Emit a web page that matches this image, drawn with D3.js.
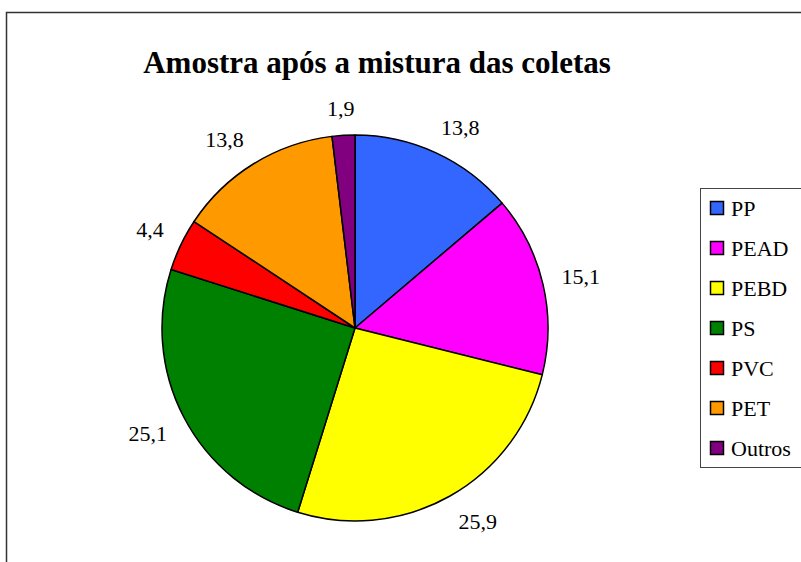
<!DOCTYPE html>
<html>
<head>
<script src="https://cdn.jsdelivr.net/npm/d3@7"></script>
</head>
<body style="margin:0">
<svg></svg>
<script>
const width = 801
const height = 562
const fontName = "Liberation Serif"

// data
const categories = ["PP", "PEAD", "PEBD", "PS", "PVC", "PET", "Outros"]
const values = [13.8, 15.1, 25.9, 25.1, 4.4, 13.8, 1.9]
const colors = ["#3366FF", "#FF00FF", "#FFFF00", "#008000", "#FF0000", "#FF9900", "#800080"]
const title = "Amostra após a mistura das coletas"

const data = categories.map((c, i) => ({ name: c, value: values[i], color: colors[i] }))

const svg = d3.select("svg")
  .attr("width", width)
  .attr("height", height)
  .attr("font-family", fontName)

// outer chart frame (runs off the right and bottom edge)
svg.append("rect")
  .attr("x", 6.5).attr("y", 12.5)
  .attr("width", 900).attr("height", 700)
  .attr("fill", "none")
  .attr("stroke", "#333")
  .attr("stroke-width", 1.5)

svg.append("text")
  .attr("x", 377).attr("y", 73)
  .attr("text-anchor", "middle")
  .attr("font-family", fontName)
  .attr("font-size", 31)
  .attr("font-weight", "bold")
  .text(title)

const cx = 355, cy = 328, radius = 193

const pie = d3.pie().sort(null).value(d => d.value)
const arc = d3.arc().innerRadius(0).outerRadius(radius)
const arcs = pie(data)

svg.append("g")
  .attr("transform", `translate(${cx},${cy})`)
  .selectAll("path")
  .data(arcs)
  .enter().append("path")
    .attr("d", arc)
    .attr("fill", d => d.data.color)
    .attr("stroke", "#000")
    .attr("stroke-width", 1.5)
    .attr("stroke-linejoin", "round")

// value labels: anchor point just outside the rim, box hangs off it
// towards the outside (roughly like Excel's "outside end")
const fmt = v => String(v).replace(".", ",")
const labelR = radius + 19, halfH = 8
const push = v => Math.sign(v) * Math.min(1, Math.abs(v) * 2)

const labels = svg.selectAll(".lbl")
  .data(arcs)
  .enter().append("text")
    .attr("class", "lbl")
    .attr("font-family", fontName)
    .attr("font-size", 22)
    .attr("text-anchor", "middle")
    .attr("dy", "0.35em")
    .text(d => fmt(d.data.value))

labels.each(function(d) {
  const a = (d.startAngle + d.endAngle) / 2
  const s = Math.sin(a), c = Math.cos(a)
  const w = this.getComputedTextLength()
  d3.select(this)
    .attr("x", cx + labelR * s + push(s) * w / 2)
    .attr("y", cy - labelR * c - push(c) * halfH)
})

// legend
const lx = 700, ly0 = 188
svg.append("rect")
  .attr("x", lx + 0.5).attr("y", ly0 + 0.5)
  .attr("width", 200).attr("height", 279)
  .attr("fill", "#fff")
  .attr("stroke", "#444")
  .attr("stroke-width", 1)

const ly = d3.scalePoint().domain(categories).range([ly0 + 20, ly0 + 260])

svg.selectAll(".sw")
  .data(data)
  .enter().append("rect")
    .attr("class", "sw")
    .attr("x", lx + 10.5).attr("y", d => ly(d.name) - 6.5)
    .attr("width", 13).attr("height", 13)
    .attr("fill", d => d.color)
    .attr("stroke", "#000")
    .attr("stroke-width", 1.5)

svg.selectAll(".leg")
  .data(data)
  .enter().append("text")
    .attr("class", "leg")
    .attr("x", lx + 31)
    .attr("y", d => ly(d.name))
    .attr("dy", "0.35em")
    .attr("font-family", fontName)
    .attr("font-size", 22)
    .text(d => d.name)
</script>
</body>
</html>
